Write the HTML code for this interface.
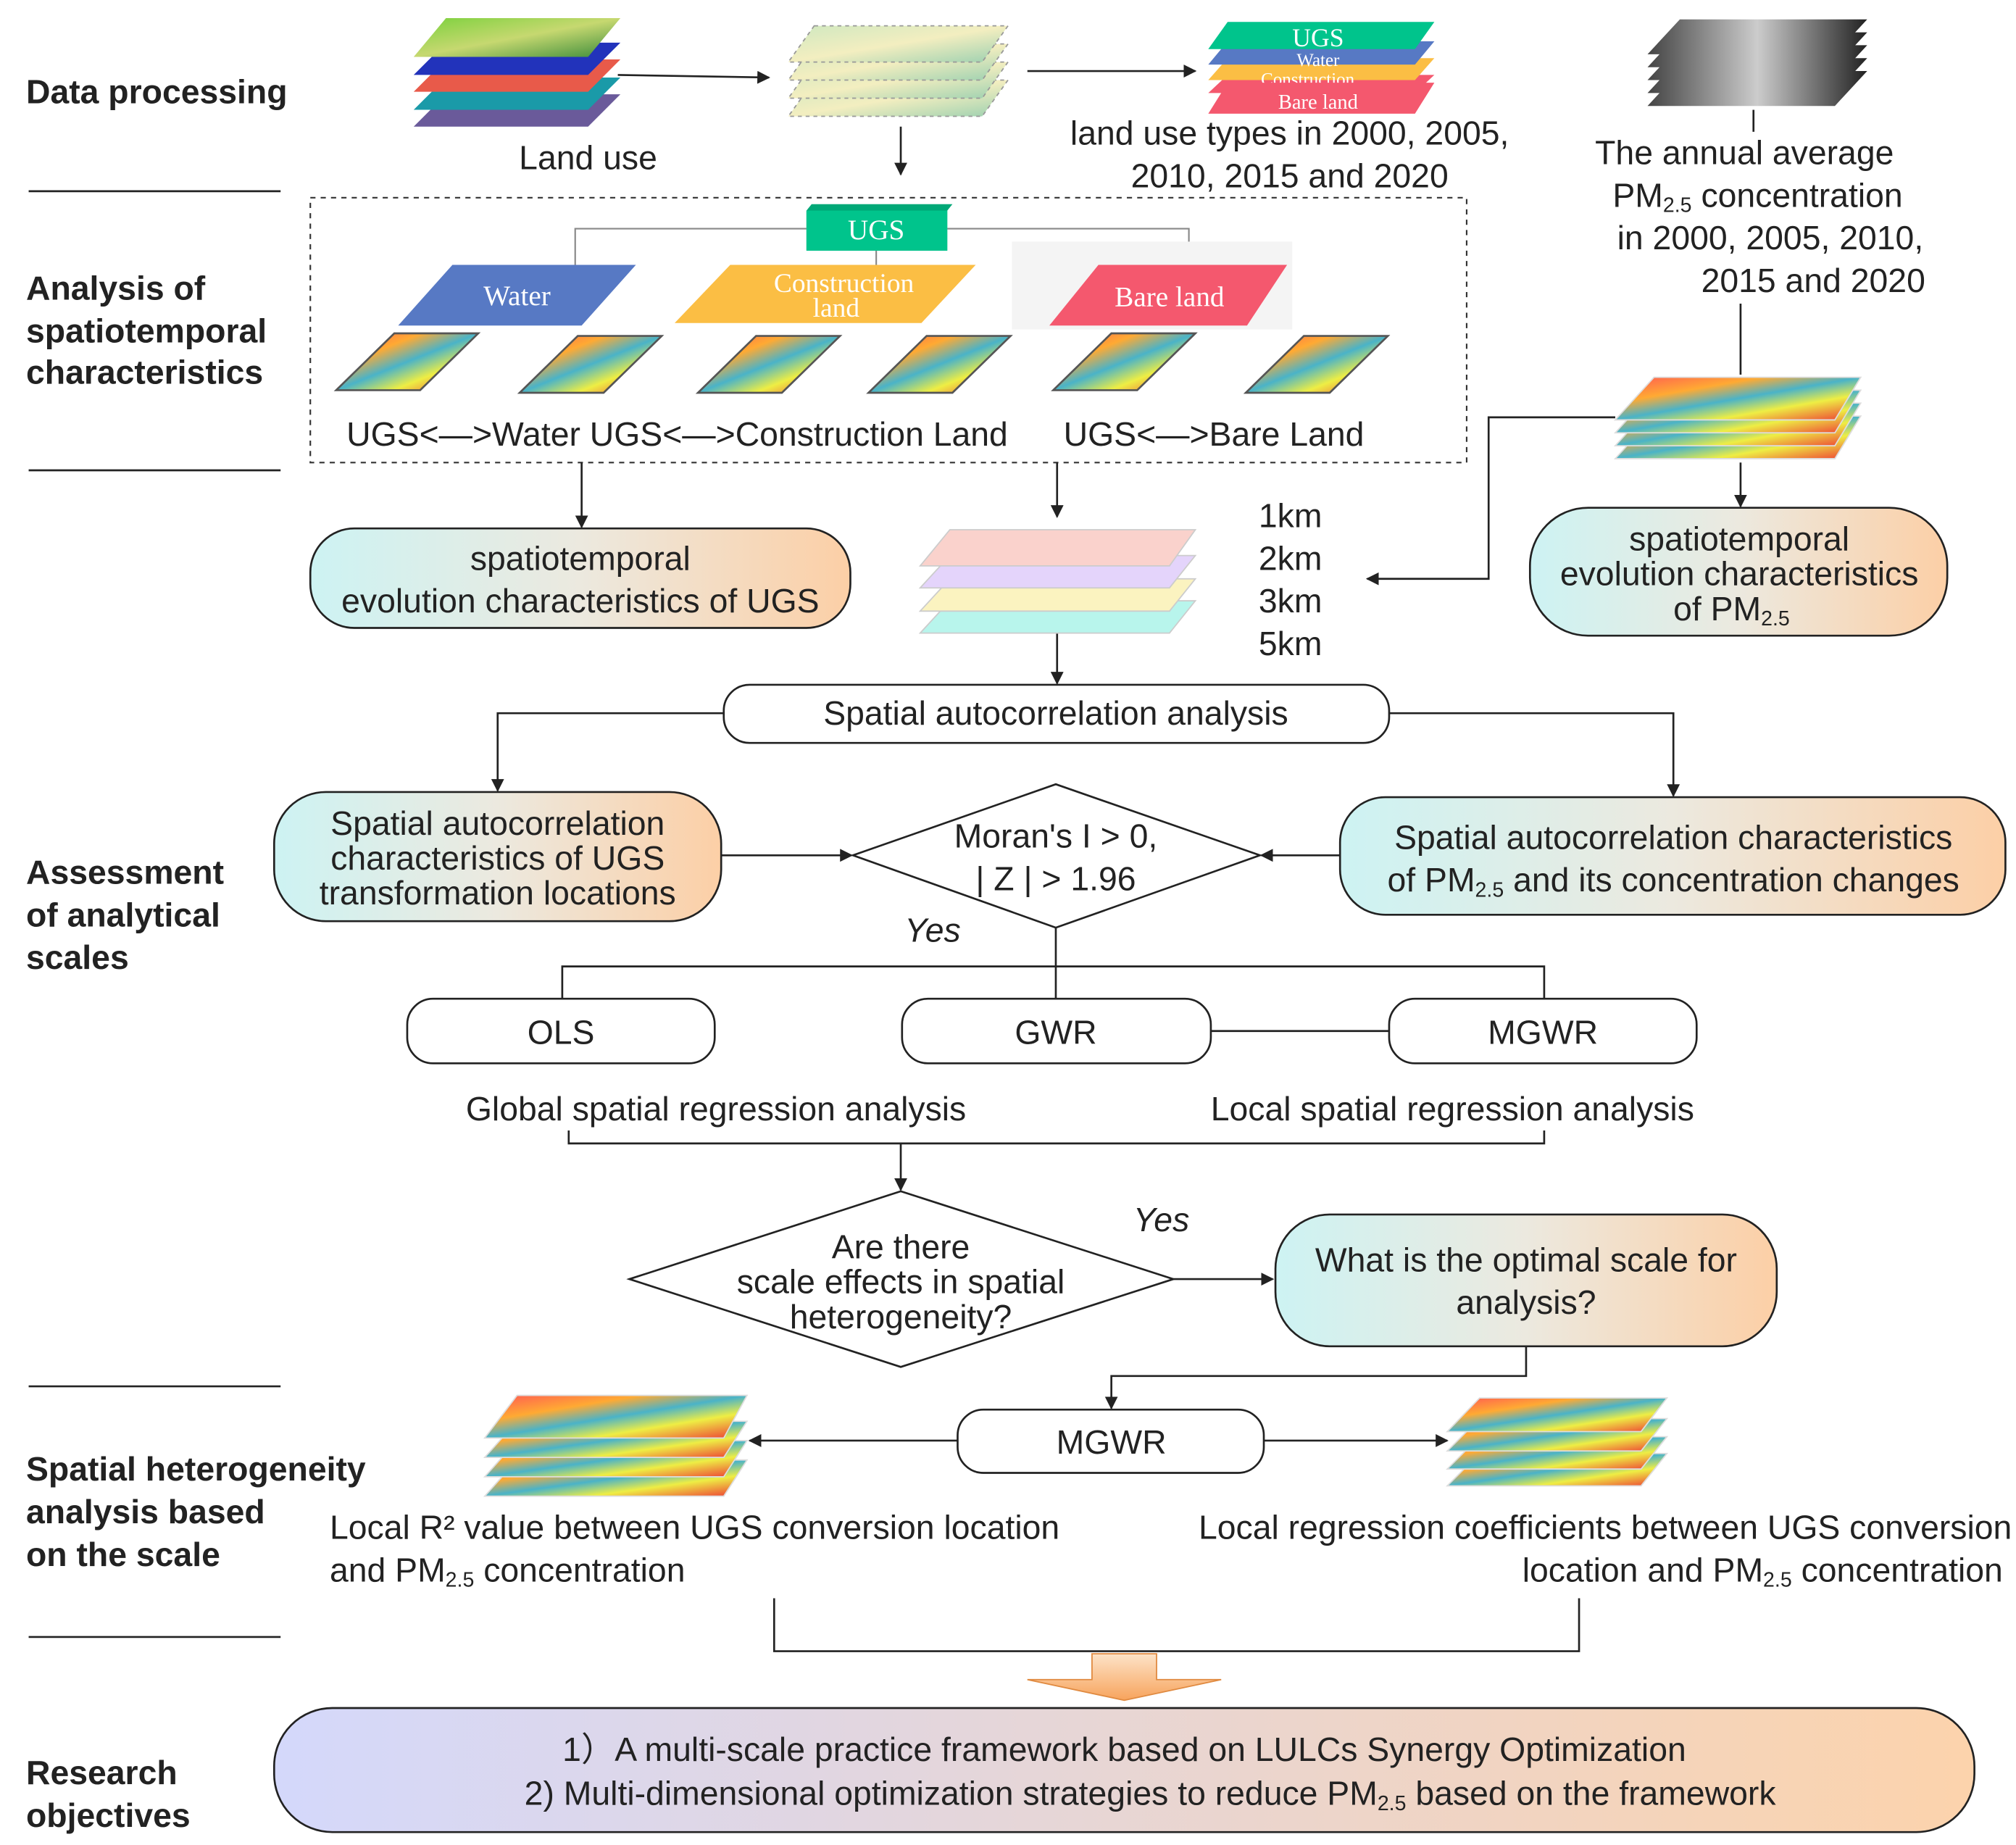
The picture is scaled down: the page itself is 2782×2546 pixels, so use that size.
<!DOCTYPE html>
<html><head><meta charset="utf-8"><style>
html,body{margin:0;padding:0;background:#fff;}
svg{display:block;}
text{font-family:"Liberation Sans",sans-serif;fill:#222;}
.b{font-weight:bold;}
.s{font-family:"Liberation Serif",serif;fill:#fff;}
</style></head><body>
<svg xmlns="http://www.w3.org/2000/svg" width="2782" height="2546" viewBox="0 0 1560 1428">
<defs>
<linearGradient id="g1" x1="0" x2="1" y1="0" y2="0"><stop offset="0" stop-color="#cdf3f3"/><stop offset="0.5" stop-color="#ece9df"/><stop offset="1" stop-color="#fccfa6"/></linearGradient>
<linearGradient id="g2" x1="0" x2="1"><stop offset="0" stop-color="#d4d8fb"/><stop offset="1" stop-color="#fcd3ac"/></linearGradient>
<linearGradient id="g3" x1="0" x2="0" y1="0" y2="1"><stop offset="0" stop-color="#fde3c8"/><stop offset="1" stop-color="#f7a35c"/></linearGradient>
<linearGradient id="hm" x1="0" x2="1" y1="0" y2="1"><stop offset="0" stop-color="#f55"/><stop offset="0.3" stop-color="#fa3"/><stop offset="0.5" stop-color="#4ab3c8"/><stop offset="0.7" stop-color="#ee4"/><stop offset="1" stop-color="#e33"/></linearGradient>
<linearGradient id="sat" x1="0" x2="1" y1="0" y2="1"><stop offset="0" stop-color="#7ad13c"/><stop offset="0.5" stop-color="#c6d870"/><stop offset="1" stop-color="#3a8b3a"/></linearGradient>
<linearGradient id="lu" x1="0" x2="1" y1="0" y2="1"><stop offset="0" stop-color="#cfe8c0"/><stop offset="0.5" stop-color="#f3eec0"/><stop offset="1" stop-color="#9bd0b0"/></linearGradient>
<linearGradient id="gr" x1="0" x2="1"><stop offset="0" stop-color="#444"/><stop offset="0.5" stop-color="#ccc"/><stop offset="1" stop-color="#222"/></linearGradient>
<marker id="a" markerWidth="10" markerHeight="10" refX="9" refY="5" orient="auto" markerUnits="userSpaceOnUse"><path d="M0,0 L10,5 L0,10 z" fill="#222"/></marker>
</defs>
<g stroke="#222" stroke-width="1.5" fill="none">
<line x1="22" y1="148" x2="217" y2="148"/><line x1="22" y1="364" x2="217" y2="364"/>
<line x1="22" y1="1073" x2="217" y2="1073"/><line x1="22" y1="1267" x2="217" y2="1267"/>
</g>
<g font-size="26">
<text x="20" y="80" class="b">Data processing</text>
<text x="20" y="232" class="b">Analysis of</text><text x="20" y="265" class="b">spatiotemporal</text><text x="20" y="297" class="b">characteristics</text>
<text x="20" y="684" class="b">Assessment</text><text x="20" y="717" class="b">of analytical</text><text x="20" y="750" class="b">scales</text>
<text x="20" y="1146" class="b">Spatial heterogeneity</text><text x="20" y="1179" class="b">analysis based</text><text x="20" y="1212" class="b">on the scale</text>
<text x="20" y="1381" class="b">Research</text><text x="20" y="1414" class="b">objectives</text>
</g>
<g>
<polygon points="345,73 480,73 455,98 320,98" fill="#6a5a9a"/>
<polygon points="345,60 480,60 455,85 320,85" fill="#1a9aa8"/>
<polygon points="345,46 480,46 455,71 320,71" fill="#e85a4a"/>
<polygon points="345,33 480,33 455,58 320,58" fill="#2233bb"/>
<polygon points="345,14 480,14 455,44 320,44" fill="url(#sat)"/>
</g>
<g>
<polygon points="630,62 780,62 760,90 610,90" fill="url(#lu)" stroke="#999" stroke-dasharray="3,3"/>
<polygon points="630,48 780,48 760,76 610,76" fill="url(#lu)" stroke="#999" stroke-dasharray="3,3"/>
<polygon points="630,34 780,34 760,62 610,62" fill="url(#lu)" stroke="#999" stroke-dasharray="3,3"/>
<polygon points="630,20 780,20 760,48 610,48" fill="url(#lu)" stroke="#999" stroke-dasharray="3,3"/>
</g>
<text x="455" y="131" font-size="26" text-anchor="middle">Land use</text>
<g stroke="#222" stroke-width="1.5" fill="none" marker-end="url(#a)">
<line x1="478" y1="58" x2="595" y2="60"/>
<line x1="697" y1="98" x2="697" y2="135"/>
<line x1="795" y1="55" x2="925" y2="55"/>
</g>
<polygon points="950,58 1110,58 1095,72 935,72" fill="#f4586e"/>
<polygon points="950,45 1110,45 1095,62 935,62" fill="#fbbe44"/>
<polygon points="950,32 1110,32 1095,50 935,50" fill="#5779c4"/>
<polygon points="950,17 1110,17 1095,38 935,38" fill="#00c48c"/>
<text x="1020" y="36" font-size="20" class="s" text-anchor="middle">UGS</text>
<text x="1020" y="51" font-size="14" class="s" text-anchor="middle">Water</text>
<text x="1012" y="66" font-size="14" class="s" text-anchor="middle">Construction</text>
<polygon points="950,64 1110,64 1095,88 935,88" fill="#f4586e"/>
<text x="1020" y="84" font-size="16" class="s" text-anchor="middle">Bare land</text>
<text x="998" y="112" font-size="26" text-anchor="middle">land use types in 2000, 2005,</text>
<text x="998" y="145" font-size="26" text-anchor="middle">2010, 2015 and 2020</text>
<g>
<polygon points="1300,55 1445,55 1420,82 1275,82" fill="url(#gr)"/>
<polygon points="1300,45 1445,45 1420,72 1275,72" fill="url(#gr)"/>
<polygon points="1300,35 1445,35 1420,62 1275,62" fill="url(#gr)"/>
<polygon points="1300,25 1445,25 1420,52 1275,52" fill="url(#gr)"/>
<polygon points="1300,15 1445,15 1420,42 1275,42" fill="url(#gr)"/>
</g>
<line x1="1357" y1="85" x2="1357" y2="102" stroke="#222" stroke-width="1.5"/>
<g font-size="26">
<text x="1350" y="127" text-anchor="middle">The annual average</text>
<text x="1248" y="160">PM<tspan font-size="16" dy="4">2.5</tspan><tspan dy="-4">   concentration</tspan></text>
<text x="1370" y="193" text-anchor="middle">in 2000, 2005, 2010,</text>
<text x="1490" y="226" text-anchor="end">2015 and 2020</text>
</g>
<line x1="1347" y1="235" x2="1347" y2="290" stroke="#222" stroke-width="1.5"/>
<rect x="240" y="153" width="895" height="205" fill="none" stroke="#333" stroke-width="1.2" stroke-dasharray="4,4"/>
<g stroke="#888" stroke-width="1.2" fill="none">
<polyline points="624,177 445,177 445,205"/>
<polyline points="733,177 920,177 920,205"/>
<line x1="678" y1="194" x2="678" y2="205"/>
</g>
<polygon points="628,158 737,158 733,163 733,194 624,194 624,163" fill="#00a877"/>
<rect x="624" y="163" width="109" height="31" fill="#00c48c"/>
<text x="678" y="185" font-size="22" class="s" text-anchor="middle">UGS</text>
<polygon points="350,205 492,205 450,252 308,252" fill="#5779c4"/>
<text x="400" y="236" font-size="22" class="s" text-anchor="middle">Water</text>
<polygon points="565,205 755,205 713,250 522,250" fill="#fbbe44"/>
<text x="653" y="226" font-size="21" class="s" text-anchor="middle">Construction</text>
<text x="647" y="245" font-size="21" class="s" text-anchor="middle">land</text>
<rect x="783" y="187" width="217" height="68" fill="#f4f4f4"/>
<polygon points="850,205 996,205 965,252 812,252" fill="#f4586e"/>
<text x="905" y="237" font-size="22" class="s" text-anchor="middle">Bare land</text>
<g fill="url(#hm)" stroke="#555" stroke-width="1.5">
<polygon points="305,258 370,258 325,302 260,302"/>
<polygon points="447,260 512,260 467,304 402,304"/>
<polygon points="585,260 650,260 605,304 540,304"/>
<polygon points="717,260 782,260 737,304 672,304"/>
<polygon points="860,258 925,258 880,302 815,302"/>
<polygon points="1009,260 1074,260 1029,304 964,304"/>
</g>
<text x="268" y="345" font-size="26">UGS&lt;—&gt;Water  UGS&lt;—&gt;Construction Land</text>
<text x="823" y="345" font-size="26">UGS&lt;—&gt;Bare Land</text>
<g stroke="#222" stroke-width="1.5" fill="none" marker-end="url(#a)">
<line x1="450" y1="358" x2="450" y2="408"/>
<line x1="818" y1="358" x2="818" y2="400"/>
<polyline points="1250,323 1152,323 1152,448 1058,448"/>
<line x1="1347" y1="358" x2="1347" y2="392"/>
<line x1="818" y1="490" x2="818" y2="529"/>
<polyline points="560,552 385,552 385,612"/>
<polyline points="1075,552 1295,552 1295,616"/>
<line x1="558" y1="662" x2="659" y2="662"/>
<line x1="1037" y1="662" x2="976" y2="662"/>
<line x1="697" y1="885" x2="697" y2="921"/>
<line x1="908" y1="990" x2="985" y2="990"/>
<polyline points="1181,1042 1181,1065 860,1065 860,1090"/>
<line x1="741" y1="1115" x2="580" y2="1115"/>
<line x1="978" y1="1115" x2="1120" y2="1115"/>
</g>
<g fill="url(#hm)" stroke="#ddd">
<polygon points="1280,322 1440,322 1420,355 1250,355"/>
<polygon points="1280,312 1440,312 1420,345 1250,345"/>
<polygon points="1280,302 1440,302 1420,335 1250,335"/>
<polygon points="1280,292 1440,292 1420,325 1250,325"/>
</g>
<rect x="240" y="409" width="418" height="77" rx="34" fill="url(#g1)" stroke="#222" stroke-width="1.5"/>
<text x="449" y="441" font-size="26" text-anchor="middle">spatiotemporal</text>
<text x="449" y="474" font-size="26" text-anchor="middle">evolution characteristics of UGS</text>
<polygon points="735,465 925,465 905,490 712,490" fill="#b8f5ec" stroke="#ccc"/>
<polygon points="735,448 925,448 905,473 712,473" fill="#fbf3c0" stroke="#ccc"/>
<polygon points="735,430 925,430 905,455 712,455" fill="#e4d4fb" stroke="#ccc"/>
<polygon points="735,410 925,410 905,438 712,438" fill="#fad2cc" stroke="#ccc"/>
<g font-size="26"><text x="974" y="408">1km</text><text x="974" y="441">2km</text><text x="974" y="474">3km</text><text x="974" y="507">5km</text></g>
<rect x="1184" y="393" width="323" height="99" rx="45" fill="url(#g1)" stroke="#222" stroke-width="1.5"/>
<g font-size="26" text-anchor="middle">
<text x="1346" y="426">spatiotemporal</text>
<text x="1346" y="453">evolution characteristics</text>
<text x="1340" y="480">of PM<tspan font-size="16" dy="4">2.5</tspan></text>
</g>
<rect x="560" y="530" width="515" height="45" rx="20" fill="#fff" stroke="#222" stroke-width="1.5"/>
<text x="817" y="561" font-size="26" text-anchor="middle">Spatial autocorrelation analysis</text>
<rect x="212" y="613" width="346" height="100" rx="40" fill="url(#g1)" stroke="#222" stroke-width="1.5"/>
<g font-size="26" text-anchor="middle">
<text x="385" y="646">Spatial autocorrelation</text>
<text x="385" y="673">characteristics of UGS</text>
<text x="385" y="700">transformation locations</text>
</g>
<polygon points="660,662 817,607 975,662 817,718" fill="#fff" stroke="#222" stroke-width="1.5"/>
<text x="817" y="656" font-size="26" text-anchor="middle">Moran's I  &gt; 0,</text>
<text x="817" y="689" font-size="26" text-anchor="middle">| Z | &gt; 1.96</text>
<rect x="1037" y="617" width="515" height="91" rx="35" fill="url(#g1)" stroke="#222" stroke-width="1.5"/>
<text x="1295" y="657" font-size="26" text-anchor="middle">Spatial autocorrelation characteristics</text>
<text x="1295" y="690" font-size="26" text-anchor="middle">of PM<tspan font-size="16" dy="4">2.5</tspan><tspan dy="-4">   and its concentration changes</tspan></text>
<text x="700" y="729" font-size="26" font-style="italic">Yes</text>
<g stroke="#222" stroke-width="1.5" fill="none">
<line x1="817" y1="718" x2="817" y2="748"/>
<polyline points="435,773 435,748 1195,748 1195,773"/>
<line x1="817" y1="748" x2="817" y2="773"/>
<line x1="937" y1="798" x2="1075" y2="798"/>
<polyline points="440,875 440,885 1195,885 1195,875"/>
<polyline points="599,1237 599,1278 1222,1278 1222,1237"/>
</g>
<g fill="#fff" stroke="#222" stroke-width="1.5">
<rect x="315" y="773" width="238" height="50" rx="20"/>
<rect x="698" y="773" width="239" height="50" rx="20"/>
<rect x="1075" y="773" width="238" height="50" rx="20"/>
<rect x="741" y="1091" width="237" height="49" rx="20"/>
</g>
<g font-size="26" text-anchor="middle">
<text x="434" y="808">OLS</text><text x="817" y="808">GWR</text><text x="1194" y="808">MGWR</text>
<text x="554" y="867">Global spatial regression analysis</text>
<text x="1124" y="867">Local spatial regression analysis</text>
<text x="860" y="1125">MGWR</text>
</g>
<polygon points="487,990 697,922 908,990 697,1058" fill="#fff" stroke="#222" stroke-width="1.5"/>
<g font-size="26" text-anchor="middle">
<text x="697" y="974">Are there</text>
<text x="697" y="1001">scale effects in spatial</text>
<text x="697" y="1028">heterogeneity?</text>
</g>
<text x="877" y="953" font-size="26" font-style="italic">Yes</text>
<rect x="987" y="940" width="388" height="102" rx="42" fill="url(#g1)" stroke="#222" stroke-width="1.5"/>
<text x="1181" y="984" font-size="26" text-anchor="middle">What is the optimal scale for</text>
<text x="1181" y="1017" font-size="26" text-anchor="middle">analysis?</text>
<g fill="url(#hm)" stroke="#ddd">
<polygon points="400,1130 578,1130 560,1158 375,1158"/>
<polygon points="400,1115 578,1115 560,1143 375,1143"/>
<polygon points="400,1100 578,1100 560,1128 375,1128"/>
<polygon points="400,1080 578,1080 560,1113 375,1113"/>
<polygon points="1145,1125 1290,1125 1270,1150 1120,1150"/>
<polygon points="1145,1112 1290,1112 1270,1137 1120,1137"/>
<polygon points="1145,1098 1290,1098 1270,1123 1120,1123"/>
<polygon points="1145,1082 1290,1082 1270,1108 1120,1108"/>
</g>
<g font-size="26">
<text x="255" y="1191">Local R² value between UGS conversion location</text>
<text x="255" y="1224">and PM<tspan font-size="16" dy="4">2.5</tspan><tspan dy="-4">   concentration</tspan></text>
<text x="1557" y="1191" text-anchor="end">Local regression coefficients between UGS conversion</text>
<text x="1550" y="1224" text-anchor="end">location and PM<tspan font-size="16" dy="4">2.5</tspan><tspan dy="-4">   concentration</tspan></text>
</g>
<polygon points="845,1280 895,1280 895,1300 945,1300 870,1316 795,1300 845,1300" fill="url(#g3)" stroke="#e08a40" stroke-width="1"/>
<rect x="212" y="1322" width="1316" height="96" rx="45" fill="url(#g2)" stroke="#222" stroke-width="1.5"/>
<g font-size="26" text-anchor="middle">
<text x="870" y="1363">1）A multi-scale practice framework based on LULCs Synergy Optimization</text>
<text x="890" y="1397">2) Multi-dimensional optimization strategies to reduce PM<tspan font-size="16" dy="4">2.5</tspan><tspan dy="-4">   based on the framework</tspan></text>
</g>
</svg>
</body></html>
